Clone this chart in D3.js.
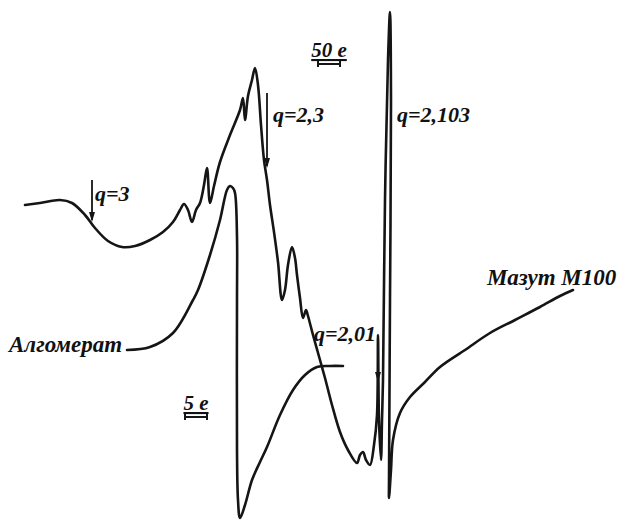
<!DOCTYPE html>
<html>
<head>
<meta charset="utf-8">
<script src="https://cdn.jsdelivr.net/npm/d3@7"></script>
<style>
  html, body { margin: 0; padding: 0; background: #ffffff; }
  svg { display: block; }
  .lbl { font-family: "Liberation Serif", "DejaVu Serif", serif; font-style: italic; font-weight: bold; fill: #111; }
</style>
</head>
<body>
<svg id="chart" width="623" height="522"></svg>
<script>
// EPR spectra: magnetic field (arbitrary units, left→right) and signal amplitude (up = positive)
const mazutField = [25,40,60,72,85,95,108,122,135,150,163,173,180,184,188,192,196,200,204,207,210,214,220,230,240,243,245,248,252,255,258,261,264,267,270,274,278,282,285,288,292,295,297,300,303,306,308,313,320,325,332,340,348,357,360,363,366,370,374,377,378,379,381,382,383,385,388,390,391,390,389,389,391,393,400,410,425,440,465,490,515,540,560,573];
const mazutSignal = [95,97,100,97,85,72,59,53,54,60,68,78,90,96,90,78,90,97,115,132,97,114,138,165,190,202,180,204,220,232,215,175,140,120,95,68,38,0,10,35,53,42,25,2,-18,-10,-16,-35,-60,-78,-105,-132,-150,-163,-155,-152,-160,-165,-145,-115,-35,-120,-160,-120,-80,100,240,288,200,0,-180,-198,-170,-140,-113,-97,-82,-67,-50,-33,-20,-7,4,10];

const algoField = [127,150,173,193,198,210,220,227,230,233,235,237,237,237,238,240,245,252,260,267,280,293,305,317,330,343];
const algoSignal = [-50,-47,-33,0,10,45,80,110,114,112,107,63,0,-150,-200,-218,-205,-180,-162,-147,-115,-90,-75,-67,-66,-66];

// Field markers (g-factor arrows): field position, arrow top and tip (signal units)
const markerLabels = ["q=3", "q=2,3", "q=2,01"];
const markerField  = [92, 267, 378];
const markerTop    = [120, 207, -45];
const markerTip    = [78, 132, -82];

// Scale bars: label, start and end field position, signal level
const scaleLabels = ["50 e", "5 e"];
const scaleStart  = [318, 185];
const scaleEnd    = [340, 207];
const scaleLevel  = [236, -117];

const svg = d3.select("#chart");
const x = d3.scaleLinear().domain([0, 623]).range([0, 623]);
const y = d3.scaleLinear().domain([300, -222]).range([0, 522]);

const ink = "#151515";
const line = d3.line().x(d => x(d[0])).y(d => y(d[1])).curve(d3.curveCatmullRom.alpha(0.5));

svg.append("path")
  .datum(d3.zip(mazutField, mazutSignal))
  .attr("d", line)
  .attr("fill", "none").attr("stroke", ink).attr("stroke-width", 2.6)
  .attr("stroke-linejoin", "round").attr("stroke-linecap", "round");

svg.append("path")
  .datum(d3.zip(algoField, algoSignal))
  .attr("d", line)
  .attr("fill", "none").attr("stroke", ink).attr("stroke-width", 2.6)
  .attr("stroke-linejoin", "round").attr("stroke-linecap", "round");

// arrows
markerField.forEach((f, i) => {
  const xt = x(f), y0 = y(markerTop[i]), y1 = y(markerTip[i]);
  svg.append("line").attr("x1", xt).attr("x2", xt).attr("y1", y0).attr("y2", y1 - 2)
    .attr("stroke", ink).attr("stroke-width", 1.8);
  svg.append("path")
    .attr("d", `M${xt - 3},${y1 - 10} L${xt},${y1} L${xt + 3},${y1 - 10} Z`)
    .attr("fill", ink);
});

// labels for arrows
const markerText = [
  { x: 95, y: 201, size: 22 },
  { x: 273, y: 122, size: 22 },
  { x: 314, y: 341, size: 22 }
];
markerLabels.forEach((t, i) => {
  svg.append("text").attr("class", "lbl")
    .attr("x", markerText[i].x).attr("y", markerText[i].y)
    .attr("font-size", markerText[i].size).text(t);
});

// label of the sharp line
svg.append("text").attr("class", "lbl").attr("x", 397).attr("y", 122)
  .attr("font-size", 22).text("q=2,103");

// sample names
svg.append("text").attr("class", "lbl").attr("x", 9).attr("y", 352)
  .attr("font-size", 23).text("Алгомерат");
svg.append("text").attr("class", "lbl").attr("x", 487).attr("y", 285)
  .attr("font-size", 23).text("Мазут М100");

// field scale bars
scaleLabels.forEach((t, i) => {
  const x0 = x(scaleStart[i]), x1 = x(scaleEnd[i]), yy = y(scaleLevel[i]);
  svg.append("text").attr("class", "lbl")
    .attr("x", (x0 + x1) / 2).attr("y", yy - 7)
    .attr("text-anchor", "middle").attr("font-size", 21)
    .attr("text-decoration", "underline").text(t);
  svg.append("line").attr("x1", x0).attr("x2", x1).attr("y1", yy).attr("y2", yy)
    .attr("stroke", ink).attr("stroke-width", 2);
  [x0, x1].forEach(xe => svg.append("line")
    .attr("x1", xe).attr("x2", xe).attr("y1", yy - 3).attr("y2", yy + 3)
    .attr("stroke", ink).attr("stroke-width", 2));
});
</script>
</body>
</html>
